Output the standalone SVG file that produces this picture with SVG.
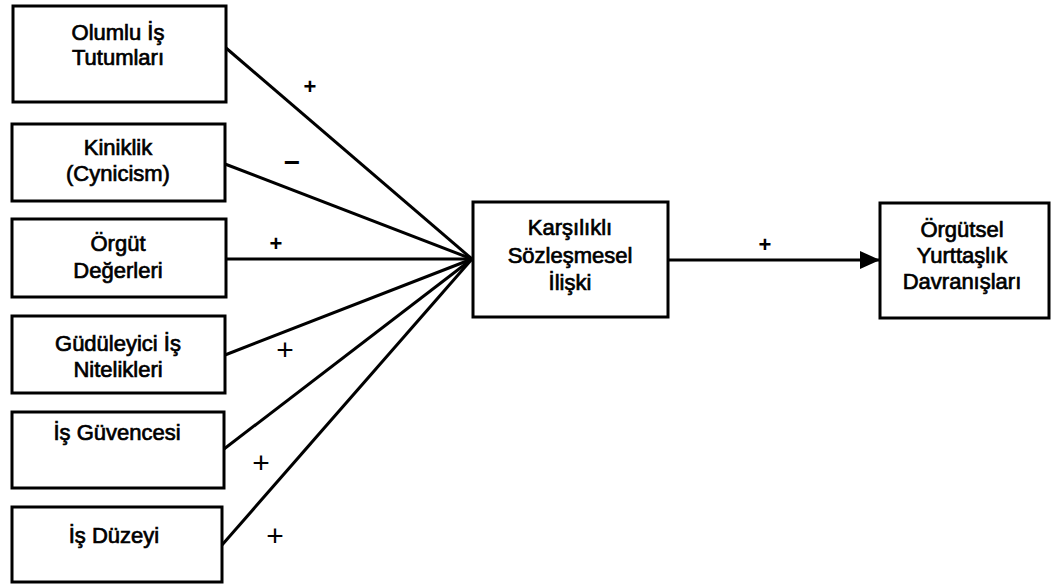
<svg xmlns="http://www.w3.org/2000/svg" width="1052" height="586" viewBox="0 0 1052 586">
<style>
.box{fill:#fff;stroke:#000;stroke-width:3}
.t{font-family:"Liberation Sans",Arial,sans-serif;font-size:22px;font-weight:normal;fill:#000;stroke:#000;stroke-width:0.7;text-anchor:middle}
.c{stroke:#000;stroke-width:3;fill:none}
.sb{font-family:"Liberation Sans",Arial,sans-serif;font-size:22px;font-weight:bold;fill:#000;text-anchor:middle}
.sl{font-family:"Liberation Sans",Arial,sans-serif;font-size:30px;font-weight:normal;fill:#000;text-anchor:middle}
</style>
<defs>
<marker id="ah" markerWidth="20" markerHeight="18" refX="20" refY="9" orient="auto" markerUnits="userSpaceOnUse">
<path d="M0,0 L20,9 L0,18 Z" fill="#000"/>
</marker>
</defs>
<rect width="1052" height="586" fill="#fff"/>
<g id="connectors">
<line class="c" x1="226" y1="48" x2="472" y2="259"/>
<line class="c" x1="225" y1="164" x2="472" y2="259"/>
<line class="c" x1="225" y1="259" x2="472" y2="259"/>
<line class="c" x1="225" y1="355" x2="472" y2="259"/>
<line class="c" x1="224" y1="449" x2="472" y2="259"/>
<line class="c" x1="222" y1="545" x2="472" y2="259"/>
<line class="c" x1="668" y1="260" x2="880" y2="260" marker-end="url(#ah)"/>
<text class="sb" x="310" y="94">+</text>
<text class="sb" x="292" y="172" style="font-size:28px">−</text>
<text class="sb" x="276" y="251">+</text>
<text class="sl" x="285" y="360">+</text>
<text class="sl" x="261" y="473">+</text>
<text class="sl" x="275" y="546">+</text>
<text class="sb" x="765" y="252">+</text>
</g>
<g id="n1"><rect class="box" x="13" y="6" width="213" height="96"/>
<text class="t" x="118" y="40">Olumlu İş</text><text class="t" x="118" y="65">Tutumları</text></g>
<g id="n2"><rect class="box" x="12" y="124" width="213" height="77"/>
<text class="t" x="118" y="155">Kiniklik</text><text class="t" x="118" y="181">(Cynicism)</text></g>
<g id="n3"><rect class="box" x="12" y="219" width="214" height="78"/>
<text class="t" x="118" y="251">Örgüt</text><text class="t" x="118" y="278">Değerleri</text></g>
<g id="n4"><rect class="box" x="12" y="316" width="213" height="77"/>
<text class="t" x="118" y="351">Güdüleyici İş</text><text class="t" x="118" y="377">Nitelikleri</text></g>
<g id="n5"><rect class="box" x="12" y="412" width="212" height="76"/>
<text class="t" x="117" y="440">İş Güvencesi</text></g>
<g id="n6"><rect class="box" x="12" y="507" width="210" height="75"/>
<text class="t" x="114" y="543">İş Düzeyi</text></g>
<g id="n7"><rect class="box" x="473" y="202" width="195" height="115"/>
<text class="t" x="570" y="235">Karşılıklı</text><text class="t" x="570" y="263">Sözleşmesel</text><text class="t" x="570" y="290">İlişki</text></g>
<g id="n8"><rect class="box" x="880" y="203" width="169" height="115"/>
<text class="t" x="962" y="237">Örgütsel</text><text class="t" x="962" y="263">Yurttaşlık</text><text class="t" x="962" y="289">Davranışları</text></g>
</svg>
